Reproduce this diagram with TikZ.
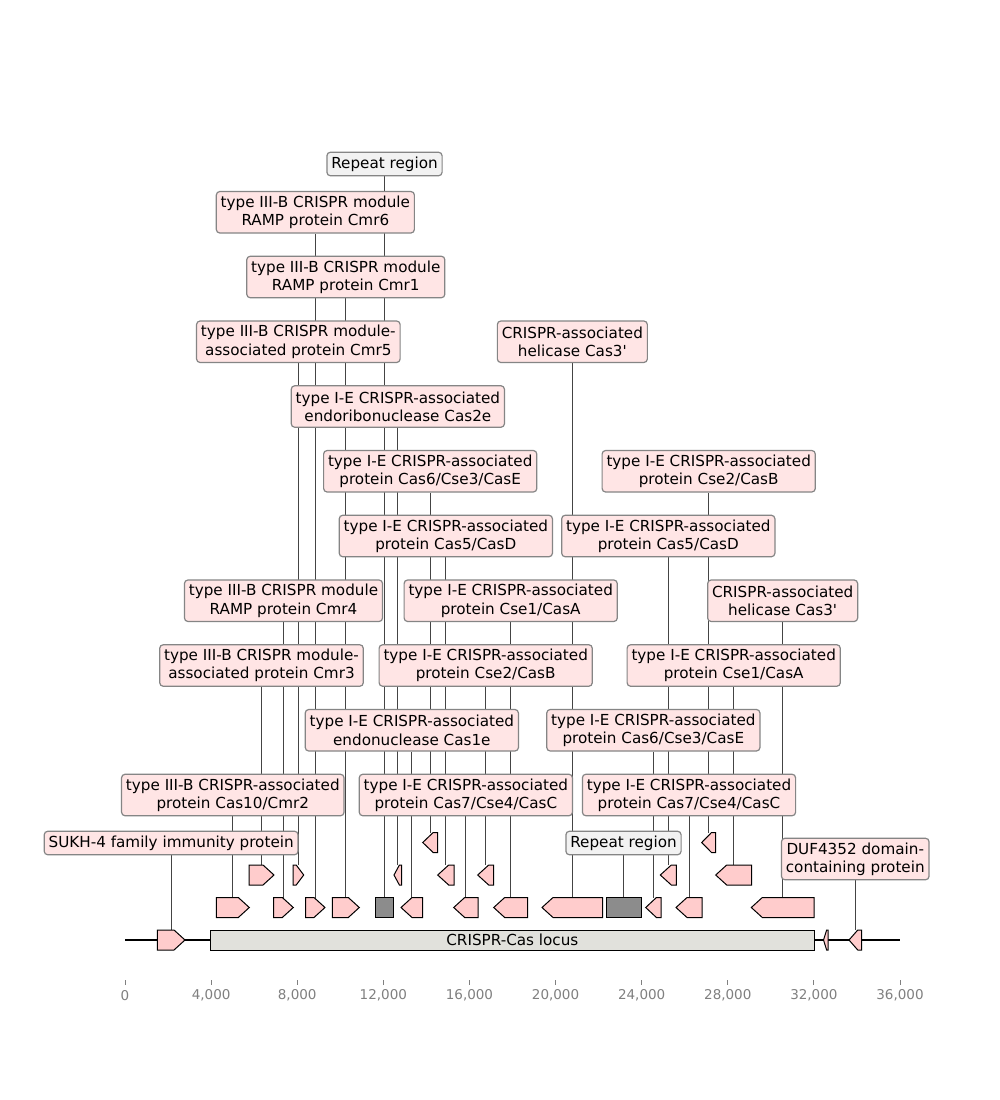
\documentclass[tikz,border=0pt]{standalone}
\usepackage{fontspec}
\setmainfont{DejaVu Sans}[Ligatures=TeXOff]
\definecolor{featfill}{HTML}{FFCCCC}
\definecolor{labfill}{HTML}{FFE5E5}
\definecolor{repfill}{HTML}{8C8C8C}
\definecolor{replab}{HTML}{F2F2F2}
\definecolor{locfill}{HTML}{E1E1DC}
\definecolor{labedge}{HTML}{858585}
\definecolor{conn}{HTML}{444444}
\definecolor{tickgray}{HTML}{808080}
\pgfdeclarelayer{bg}
\pgfsetlayers{bg,main}
\tikzset{
  featstyle/.style={draw=black, fill=featfill, line width=1pt, line join=miter},
  repbox/.style={draw=black, fill=repfill, line width=1pt},
  locbox/.style={draw=black, fill=locfill, line width=1pt},
  lab/.style={draw=labedge, line width=1.2pt, fill=labfill, rounded corners=3.5pt,
    align=center, inner xsep=4.4pt, inner ysep=0pt, text=black,
    font=\fontsize{15.2}{18.3}\selectfont},
  lab2/.style={lab, minimum height=41.5pt},
  lab1/.style={lab, minimum height=23.5pt},
  rep/.style={fill=replab},
  conline/.style={draw=conn, line width=0.8pt},
  ticklab/.style={text=tickgray, font=\fontsize{13.5}{16}\selectfont, inner sep=0pt}
}
\newcommand{\featR}[4]{%
  \pgfmathsetmacro{\hd}{min(11,0.7*(#3-#2))}
  \draw[featstyle] (#2,{#4-10}) -- ({#3-\hd},{#4-10}) -- (#3,#4) -- ({#3-\hd},{#4+10}) -- (#2,{#4+10}) -- cycle;
  \coordinate (#1) at ({(#2+#3)/2},{#4-10});
}
\newcommand{\featL}[4]{%
  \pgfmathsetmacro{\hd}{min(11,0.7*(#3-#2))}
  \draw[featstyle] (#3,{#4-10}) -- ({#2+\hd},{#4-10}) -- (#2,#4) -- ({#2+\hd},{#4+10}) -- (#3,{#4+10}) -- cycle;
  \coordinate (#1) at ({(#2+#3)/2},{#4-10});
}
\newcommand{\featB}[4]{%
  \draw[repbox] (#2,{#4-10}) rectangle (#3,{#4+10});
  \coordinate (#1) at ({(#2+#3)/2},{#4-10});
}
\begin{document}
\begin{tikzpicture}[x=1pt,y=-1pt]
\useasboundingbox (0,0) rectangle (1000,1100);
\begin{pgfonlayer}{bg}
\fill[white] (0,0) rectangle (1000,1100);
\end{pgfonlayer}

% axis ticks
\foreach \k/\t in {0/0,1/{4,000},2/{8,000},3/{12,000},4/{16,000},5/{20,000},6/{24,000},7/{28,000},8/{32,000},9/{36,000}}{
  \draw[tickgray, line width=0.8pt] ({125+86.111*\k},980) -- ({125+86.111*\k},985);
  \node[ticklab] at ({125+86.111*\k},995.5) {\t};
}

% baseline
\draw[line width=1.5pt] (125,940) -- (900,940);

% level 0
\node[locbox, minimum width=603.3pt, minimum height=20pt, inner sep=0pt,
  font=\fontsize{15.2}{18.3}\selectfont] (locus) at (512.35,940) {CRISPR-Cas locus};
\featR{f0a}{157.3}{185}{940}
\featL{f0b}{823.5}{828}{940}
\featL{f0c}{849}{861.5}{940}

% level 1
\featR{a1}{216.3}{249.3}{907.5}
\featR{b1}{273.7}{293.3}{907.5}
\featR{c1}{305.7}{325}{907.5}
\featR{d1}{332.3}{359.3}{907.5}
\featB{g1}{375.3}{393.7}{907.5}
\featL{e1}{401}{422.7}{907.5}
\featL{h1}{453.7}{478}{907.5}
\featL{i1}{493.7}{527.7}{907.5}
\featL{j1}{542}{602.7}{907.5}
\featB{g2}{606}{641}{907.5}
\featL{k1}{645.7}{661}{907.5}
\featL{m1}{676}{702}{907.5}
\featL{n1}{751.3}{814}{907.5}

% level 2
\featR{a2}{249}{274}{875}
\featR{b2}{293}{303.7}{875}
\featL{c2}{394}{401.7}{875}
\featL{d2}{437.7}{454}{875}
\featL{e2}{477.7}{493.7}{875}
\featL{f2}{660.3}{676.3}{875}
\featL{h2}{715.7}{751.7}{875}

% level 3
\featL{a3}{422.7}{437.7}{842.5}
\featL{b3}{701.7}{715.7}{842.5}

% labels
\node[lab1,rep] (Lrep1) at (384.5,164) {Repeat region};
\node[lab2] (Lcmr6) at (315.35,212.25) {type III-B CRISPR module\\RAMP protein Cmr6};
\node[lab2] (Lcmr1) at (345.8,277) {type III-B CRISPR module\\RAMP protein Cmr1};
\node[lab2] (Lcmr5) at (298.35,341.75) {type III-B CRISPR module-\\associated protein Cmr5};
\node[lab2] (Lcas3a) at (572.35,341.75) {CRISPR-associated\\helicase Cas3'};
\node[lab2] (Lcas2e) at (397.85,406.5) {type I-E CRISPR-associated\\endoribonuclease Cas2e};
\node[lab2] (Lcas6a) at (430.2,471.25) {type I-E CRISPR-associated\\protein Cas6/Cse3/CasE};
\node[lab2] (Lcse2b) at (708.7,471.25) {type I-E CRISPR-associated\\protein Cse2/CasB};
\node[lab2] (Lcas5a) at (445.85,536) {type I-E CRISPR-associated\\protein Cas5/CasD};
\node[lab2] (Lcas5b) at (668.3,536) {type I-E CRISPR-associated\\protein Cas5/CasD};
\node[lab2] (Lcmr4) at (283.5,600.75) {type III-B CRISPR module\\RAMP protein Cmr4};
\node[lab2] (Lcse1a) at (510.7,600.75) {type I-E CRISPR-associated\\protein Cse1/CasA};
\node[lab2] (Lcas3b) at (782.65,600.75) {CRISPR-associated\\helicase Cas3'};
\node[lab2] (Lcmr3) at (261.5,665.5) {type III-B CRISPR module-\\associated protein Cmr3};
\node[lab2] (Lcse2a) at (485.7,665.5) {type I-E CRISPR-associated\\protein Cse2/CasB};
\node[lab2] (Lcse1b) at (733.7,665.5) {type I-E CRISPR-associated\\protein Cse1/CasA};
\node[lab2] (Lcas1e) at (411.85,730.25) {type I-E CRISPR-associated\\endonuclease Cas1e};
\node[lab2] (Lcas6b) at (653.35,730.25) {type I-E CRISPR-associated\\protein Cas6/Cse3/CasE};
\node[lab2] (Lcas10) at (232.8,795) {type III-B CRISPR-associated\\protein Cas10/Cmr2};
\node[lab2] (Lcas7a) at (465.85,795) {type I-E CRISPR-associated\\protein Cas7/Cse4/CasC};
\node[lab2] (Lcas7b) at (689,795) {type I-E CRISPR-associated\\protein Cas7/Cse4/CasC};
\node[lab1] (Lsukh) at (171.15,843) {SUKH-4 family immunity protein};
\node[lab1,rep] (Lrep2) at (623.5,843) {Repeat region};
\node[lab2] (Lduf) at (855.25,859) {DUF4352 domain-\\containing protein};

% connectors (behind boxes)
\begin{pgfonlayer}{bg}
\foreach \f/\l in {g1/Lrep1, c1/Lcmr6, d1/Lcmr1, b2/Lcmr5, j1/Lcas3a, c2/Lcas2e,
  a3/Lcas6a, b3/Lcse2b, d2/Lcas5a, f2/Lcas5b, b1/Lcmr4, i1/Lcse1a, n1/Lcas3b,
  a2/Lcmr3, e2/Lcse2a, h2/Lcse1b, e1/Lcas1e, k1/Lcas6b, a1/Lcas10, h1/Lcas7a,
  m1/Lcas7b, f0a/Lsukh, g2/Lrep2, f0c/Lduf}{
  \draw[conline] (\f) -- (\f |- \l.south);
}
\end{pgfonlayer}
\end{tikzpicture}
\end{document}
